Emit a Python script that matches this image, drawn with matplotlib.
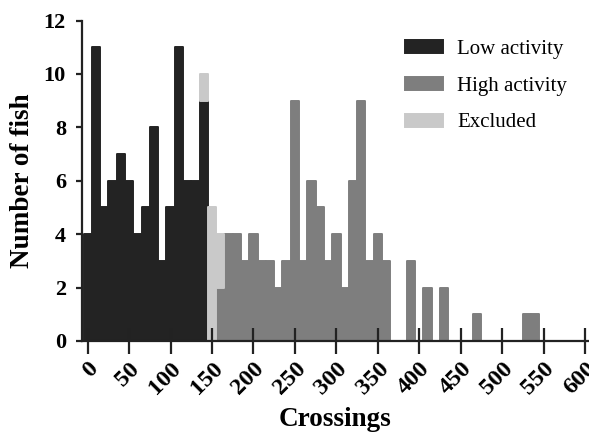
import matplotlib.pyplot as plt
import matplotlib.transforms as mtransforms

# bin centres (width 10 crossings) and counts per group
low_bins = [0, 10, 20, 30, 40, 50, 60, 70, 80, 90, 100, 110, 120, 130, 140]
low_counts = [4, 11, 5, 6, 7, 6, 4, 5, 8, 3, 5, 11, 6, 6, 9]

high_bins = [160, 170, 180, 190, 200, 210, 220, 230, 240, 250, 260, 270, 280,
             290, 300, 310, 320, 330, 340, 350, 360, 390, 410, 430, 470, 530, 540]
high_counts = [2, 4, 4, 3, 4, 3, 3, 2, 3, 9, 3, 6, 5,
               3, 4, 2, 6, 9, 3, 4, 3, 3, 2, 2, 1, 1, 1]

excl_bins = [140, 150, 160]
excl_counts = [1, 5, 2]

x_ticks = list(range(0, 601, 50))
y_ticks = list(range(0, 13, 2))

c_low = '#232323'
c_high = '#7e7e7e'
c_excl = '#c9c9c9'

plt.rcParams['font.family'] = ['Liberation Serif', 'DejaVu Serif']

fig = plt.figure(figsize=(5.89, 4.33), dpi=100)
ax = fig.add_axes([0.139, 0.2125, 0.86, 0.74])

# excluded fish sit on top of whatever group shares the bin
base = {b: 0 for b in excl_bins}
for b, c in zip(low_bins + high_bins, low_counts + high_counts):
    if b in base:
        base[b] += c
excl_bottom = [base[b] for b in excl_bins]

bar_kw = dict(width=10, align='center', linewidth=1.4, joinstyle='round')
ax.bar(low_bins, low_counts, color=c_low, edgecolor=c_low, label='Low activity', **bar_kw)
ax.bar(high_bins, high_counts, color=c_high, edgecolor=c_high, label='High activity', **bar_kw)
ax.bar(excl_bins, excl_counts, bottom=excl_bottom, color=c_excl, edgecolor=c_excl,
       label='Excluded', **bar_kw)

ax.set_xlim(-7, 604)
ax.set_ylim(0, 12)
ax.set_xticks(x_ticks)
ax.set_yticks(y_ticks)
ax.set_xticklabels([str(t) for t in x_ticks], rotation=45, ha='right',
                   rotation_mode='anchor', fontweight='bold', fontsize=17.5)
ax.set_yticklabels([str(t) for t in y_ticks], fontweight='bold', fontsize=16)

# nudge the slanted labels a little to the right of their ticks
shift = mtransforms.ScaledTranslation(4 / 100, 0, fig.dpi_scale_trans)
for lbl in ax.get_xticklabels():
    lbl.set_transform(lbl.get_transform() + shift)

for side in ['top', 'right']:
    ax.spines[side].set_visible(False)
for side in ['left', 'bottom']:
    ax.spines[side].set_linewidth(1.6)
    ax.spines[side].set_color('#222222')
ax.tick_params(axis='y', direction='out', length=4.5, width=1.6, color='#222222', pad=7)
ax.tick_params(axis='x', direction='inout', length=19, width=1.6, color='#222222', pad=3)

ax.set_xlabel('Crossings', fontsize=19.5, fontweight='bold', labelpad=6)
ax.set_ylabel('Number of fish', fontsize=19.5, fontweight='bold', labelpad=6)

ax.legend(loc='upper left', bbox_to_anchor=(405 / 589, 1 - 40 / 433),
          bbox_transform=fig.transFigure, frameon=False, fontsize=15,
          handlelength=1.83, handleheight=0.58, handletextpad=0.67,
          labelspacing=0.85, borderpad=0, borderaxespad=0)

fig.savefig('out.png', dpi=100)
